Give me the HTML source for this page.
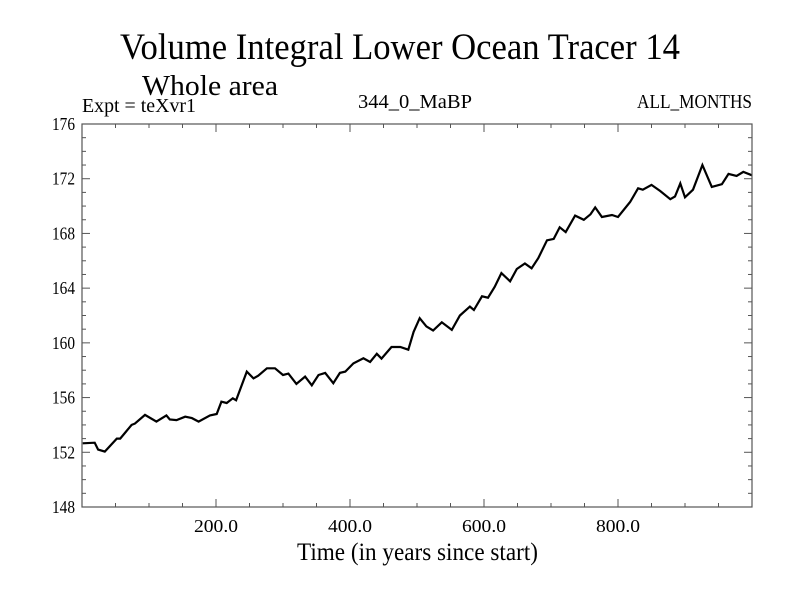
<!DOCTYPE html>
<html><head><meta charset="utf-8"><style>
body{margin:0;background:#fff;width:800px;height:600px;overflow:hidden}
text{font-family:"Liberation Serif",serif;fill:#000}
</style></head><body>
<svg width="800" height="600" xmlns="http://www.w3.org/2000/svg">
<text x="120" y="59" font-size="37" textLength="560" lengthAdjust="spacingAndGlyphs">Volume Integral Lower Ocean Tracer 14</text>
<text x="142" y="95" font-size="29" textLength="136" lengthAdjust="spacingAndGlyphs">Whole area</text>
<text x="82" y="112" font-size="20" textLength="114" lengthAdjust="spacingAndGlyphs">Expt = teXvr1</text>
<text x="358" y="108" font-size="20" textLength="114" lengthAdjust="spacingAndGlyphs">344_0_MaBP</text>
<text x="637" y="108" font-size="20" textLength="115" lengthAdjust="spacingAndGlyphs">ALL_MONTHS</text>
<g id="axes"></g>
<path id="series" fill="none" stroke="#000" stroke-width="2.2" stroke-linejoin="miter"></path>
<rect x="82" y="124" width="670" height="383" fill="none" stroke="#555" stroke-width="1.2"></rect>
<text x="297" y="560" font-size="25" textLength="241" lengthAdjust="spacingAndGlyphs">Time (in years since start)</text>
</svg>
<script>
const years=[1,19,24,34,52,57,74,79,94,111,126,131,141,154,164,174,191,201,208,216,225,230,246,256,263,276,288,300,308,320,333,343,353,363,375,385,393,405,420,430,440,447,462,475,487,495,504,514,524,537,552,564,579,585,597,606,616,626,639,649,661,671,681,694,704,713,722,736,749,759,766,776,791,800,818,830,837,850,863,878,885,893,900,912,926,940,955,965,977,987,1000];
const values=[152.66,152.7,152.2,152.05,153.0,153.0,154.0,154.1,154.73,154.24,154.7,154.4,154.35,154.6,154.5,154.24,154.7,154.8,155.7,155.6,155.95,155.8,157.9,157.4,157.6,158.14,158.14,157.65,157.75,157.0,157.53,156.9,157.65,157.8,157.05,157.8,157.9,158.5,158.87,158.6,159.2,158.85,159.7,159.7,159.5,160.8,161.8,161.2,160.9,161.5,160.95,162.0,162.65,162.4,163.4,163.3,164.1,165.1,164.5,165.4,165.8,165.45,166.2,167.5,167.6,168.45,168.1,169.3,169.0,169.4,169.9,169.2,169.35,169.2,170.3,171.3,171.2,171.55,171.1,170.5,170.7,171.66,170.64,171.2,173.0,171.4,171.6,172.35,172.2,172.5,172.25];
const yTicks=[148,152,156,160,164,168,172,176];
const xTicks=[200,400,600,800];
const xTickLabels=["200.0","400.0","600.0","800.0"];
const L=82,R=752,T=124,B=507,X0=0,X1=1000,Y0=148,Y1=176;
const sx=v=>L+(v-X0)/(X1-X0)*(R-L);
const sy=v=>B-(v-Y0)/(Y1-Y0)*(B-T);
const NS="http://www.w3.org/2000/svg";
const g=document.getElementById('axes');
function line(x1,y1,x2,y2,name){const l=document.createElementNS(NS,'line');
l.setAttribute('x1',x1);l.setAttribute('y1',y1);l.setAttribute('x2',x2);l.setAttribute('y2',y2);
l.setAttribute('stroke','#555');l.setAttribute('stroke-width','1');


g.appendChild(l);}
for(let v=Y0;v<=Y1;v+=1){const y=sy(v);const len=(v%4===0)?8:4;
line(L,y,L+len,y,'y-tick');line(R,y,R-len,y,'y-tick-right');}
for(let v=50;v<X1;v+=50){const x=sx(v);const len=(v%200===0)?8:4;
line(x,B,x,B-len,'x-tick');line(x,T,x,T+len,'x-tick-top');}
yTicks.forEach(v=>{const t=document.createElementNS(NS,'text');
t.setAttribute('x',L-7);t.setAttribute('y',sy(v)+6);t.setAttribute('text-anchor','end');t.setAttribute('font-size','18');
t.setAttribute('textLength','23');t.setAttribute('lengthAdjust','spacingAndGlyphs');


t.textContent=v;g.appendChild(t);});
xTicks.forEach((v,i)=>{const t=document.createElementNS(NS,'text');
t.setAttribute('x',sx(v)-22);t.setAttribute('y',B+25);t.setAttribute('font-size','18');
t.setAttribute('textLength','44');t.setAttribute('lengthAdjust','spacingAndGlyphs');


t.textContent=xTickLabels[i];g.appendChild(t);});
document.getElementById('series').setAttribute('d',years.map((x,i)=>(i?'L':'M')+sx(x).toFixed(1)+','+sy(values[i]).toFixed(1)).join(''));
</script>
</body></html>
